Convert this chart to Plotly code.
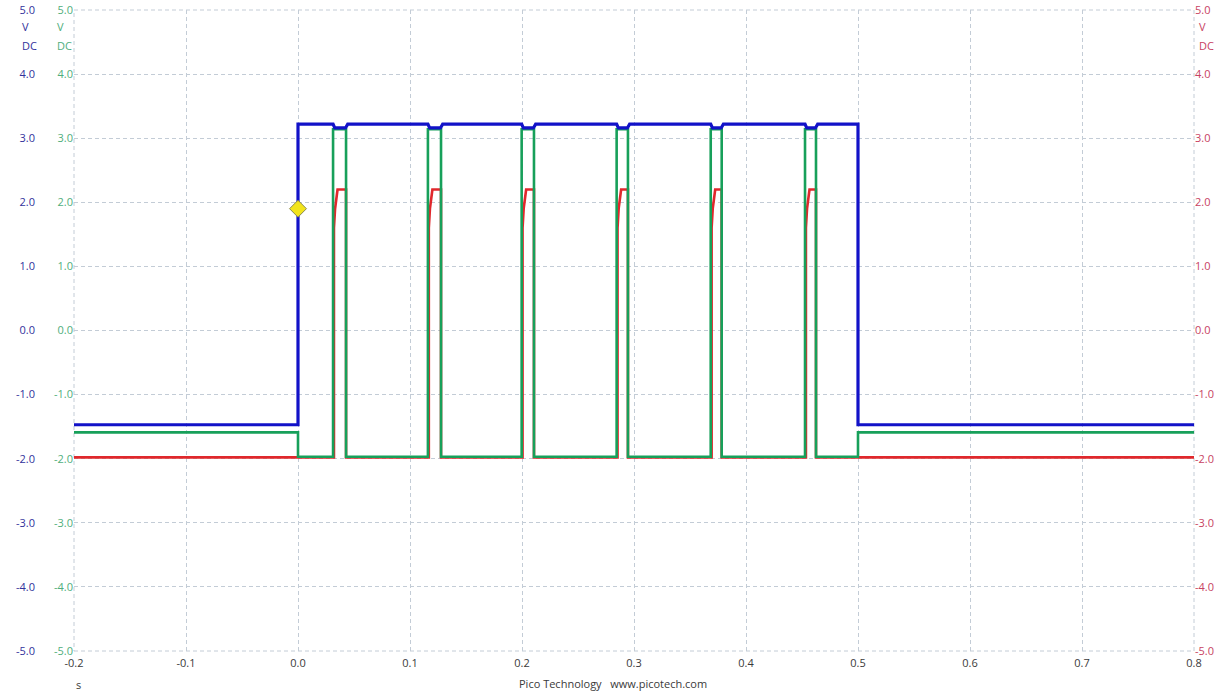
import plotly.graph_objects as go

# ---- data ----
pulse_start = [0.0313, 0.1160, 0.1997, 0.2845, 0.3685, 0.4527]   # s, green rising edges
pulse_end   = [0.0429, 0.1277, 0.2107, 0.2946, 0.3783, 0.4625]   # s, green falling edges
gate_on, gate_off = 0.0, 0.5                                      # s, blue edges
t_min, t_max = -0.2, 0.8

blue_low, blue_high, blue_dip = -1.47, 3.22, 3.16
green_idle, green_low, green_high = -1.59, -1.97, 3.14
red_low, red_step, red_high = -1.98, 1.9, 2.2

trigger_t, trigger_v = 0.0, 1.9

x_ticks = [-0.2, -0.1, 0.0, 0.1, 0.2, 0.3, 0.4, 0.5, 0.6, 0.7, 0.8]
x_labels = ["-0.2", "-0.1", "0.0", "0.1", "0.2", "0.3", "0.4", "0.5", "0.6", "0.7", "0.8"]
y_ticks = [-5, -4, -3, -2, -1, 0, 1, 2, 3, 4, 5]
y_labels = ["-5.0", "-4.0", "-3.0", "-2.0", "-1.0", "0.0", "1.0", "2.0", "3.0", "4.0", "5.0"]

# ---- build step waveforms from the read edges/levels ----
bt = [t_min, gate_on, gate_on]
bv = [blue_low, blue_low, blue_high]
for s, e in zip(pulse_start, pulse_end):
    bt += [s, s + 0.0015, e - 0.0005, e + 0.0015]
    bv += [blue_high, blue_dip, blue_dip, blue_high]
bt += [gate_off, gate_off, t_max]
bv += [blue_high, blue_low, blue_low]

gt = [t_min, gate_on, gate_on]
gv = [green_idle, green_idle, green_low]
for s, e in zip(pulse_start, pulse_end):
    gt += [s, s, e, e]
    gv += [green_low, green_high, green_high, green_low]
gt += [gate_off, gate_off, t_max]
gv += [green_low, green_idle, green_idle]

rt = [t_min]
rv = [red_low]
for s, e in zip(pulse_start, pulse_end):
    rt += [s + 0.0008, s + 0.0008, s + 0.0018, s + 0.0040, e, e]
    rv += [red_low, 1.6, red_step, red_high, red_high, red_low]
rt += [t_max]
rv += [red_low]

BLUE = "#1212c8"
GREEN = "#17a05a"
RED = "#e0282c"
GRID = "#c3ccd6"

fig = go.Figure()
fig.add_trace(go.Scatter(x=rt, y=rv, mode="lines", line=dict(color=RED, width=2.6), hoverinfo="skip"))
fig.add_trace(go.Scatter(x=gt, y=gv, mode="lines", line=dict(color=GREEN, width=2.6), hoverinfo="skip"))
fig.add_trace(go.Scatter(x=bt, y=bv, mode="lines", line=dict(color=BLUE, width=3.2), hoverinfo="skip"))
fig.add_trace(go.Scatter(x=[trigger_t], y=[trigger_v], mode="markers",
                         marker=dict(symbol="diamond", size=13, color="#f2e41c",
                                     line=dict(color="#8a8a50", width=1)),
                         hoverinfo="skip"))
# invisible traces to activate the extra axes
fig.add_trace(go.Scatter(x=[t_min], y=[0], yaxis="y2", mode="markers", marker=dict(opacity=0), hoverinfo="skip"))
fig.add_trace(go.Scatter(x=[t_min], y=[0], yaxis="y3", mode="markers", marker=dict(opacity=0), hoverinfo="skip"))

# dashed frame of the graticule (edges of the grid)
fig.add_shape(type="rect", xref="paper", yref="paper", x0=0, x1=1, y0=0, y1=1,
              line=dict(color=GRID, width=1, dash="4px,3px"), layer="below")

FONT = "Open Sans"
fig.update_layout(
    width=1230, height=691,
    margin=dict(l=74, r=36, t=10, b=40, autoexpand=False),
    plot_bgcolor="white", paper_bgcolor="white",
    showlegend=False,
    font=dict(family=FONT, size=11, color="#333333"),
    xaxis=dict(range=[t_min, t_max], tickvals=x_ticks, ticktext=x_labels, automargin=False,
               showgrid=True, gridcolor=GRID, griddash="4px,3px", gridwidth=1,
               zeroline=False, showline=False, ticks="", ticklabelstandoff=4,
               tickfont=dict(family=FONT, size=11, color="#3a3a3a")),
    yaxis=dict(range=[-5, 5], tickvals=y_ticks, ticktext=y_labels, automargin=False,
               showgrid=True, gridcolor=GRID, griddash="4px,3px", gridwidth=1,
               zeroline=False, showline=False, ticks="",
               tickfont=dict(family=FONT, size=11, color="#4fae7c")),
    yaxis2=dict(range=[-5, 5], tickvals=y_ticks, ticktext=y_labels, overlaying="y", side="left",
                automargin=False,
                showgrid=False, zeroline=False, showline=False, ticks="",
                ticklabelstandoff=38,
                tickfont=dict(family=FONT, size=11, color="#32329c")),
    yaxis3=dict(range=[-5, 5], tickvals=y_ticks, ticktext=y_labels, overlaying="y", side="right",
                automargin=False,
                showgrid=False, zeroline=False, showline=False, ticks="",
                tickfont=dict(family=FONT, size=11, color="#c84262")),
)

def px_x(px):
    return (px - 74) / 1120.0

def px_y(py):
    return (651 - py) / 641.0

ann = []
for xpx, col in [(20, "#32329c"), (55, "#4fae7c"), (1197, "#c84262")]:
    ann.append(dict(x=px_x(xpx), y=px_y(27), xref="paper", yref="paper", text="V",
                    showarrow=False, xanchor="left", yanchor="middle",
                    font=dict(family=FONT, size=11, color=col)))
    ann.append(dict(x=px_x(xpx), y=px_y(45), xref="paper", yref="paper", text="DC",
                    showarrow=False, xanchor="left", yanchor="middle",
                    font=dict(family=FONT, size=11, color=col)))
ann.append(dict(x=px_x(78), y=px_y(684), xref="paper", yref="paper", text="s",
                showarrow=False, xanchor="center", yanchor="middle",
                font=dict(family=FONT, size=11, color="#3a3a3a")))
ann.append(dict(x=px_x(613), y=px_y(683), xref="paper", yref="paper",
                text="Pico Technology   www.picotech.com",
                showarrow=False, xanchor="center", yanchor="middle",
                font=dict(family=FONT, size=11, color="#3a3a3a")))
fig.update_layout(annotations=ann)

fig.write_html("out.html", config={"displayModeBar": False},
               post_script="document.body.style.margin='0';document.body.style.overflow='hidden';")
